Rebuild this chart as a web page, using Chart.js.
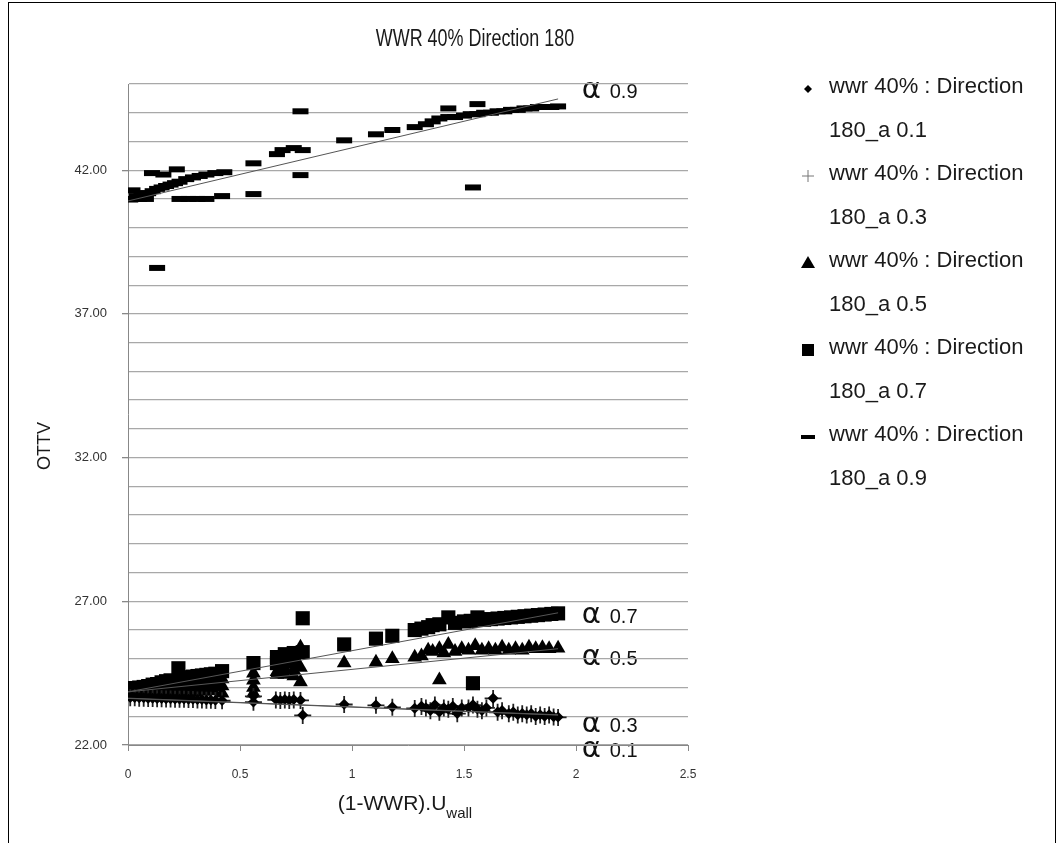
<!DOCTYPE html>
<html>
<head>
<meta charset="utf-8">
<title>WWR 40% Direction 180</title>
<script src="https://cdn.jsdelivr.net/npm/chart.js@4.4.1/dist/chart.umd.min.js"></script>
<style>
  html, body { margin: 0; padding: 0; background: #fff; overflow: hidden; }
  #wrap { position: relative; width: 1062px; height: 843px; }
</style>
</head>
<body>
<div id="wrap"><canvas id="ottv"></canvas></div>
<script>
// alpha 0.1 (diamonds)
const x01 = [0.01,0.03,0.05,0.07,0.09,0.11,0.13,0.15,0.17,0.19,0.21,0.23,0.25,0.27,0.29,0.31,0.33,0.35,0.37,0.39,
  0.42,0.56,0.56,0.66,0.68,0.70,0.72,0.74,0.77,0.78,0.965,1.107,1.18,1.28,
  1.31,1.33,1.35,1.37,1.39,1.41,1.43,1.45,1.47,1.49,1.52,1.54,1.56,1.58,1.60,1.63,1.65,1.67,
  1.70,1.72,1.74,1.76,1.78,1.80,1.82,1.84,1.86,1.88,1.90,1.92];
const y01 = [23.65,23.65,23.64,23.64,23.63,23.63,23.62,23.62,23.61,23.61,23.60,23.60,23.60,23.59,23.59,23.58,23.58,23.57,23.57,23.56,
  23.55,23.50,23.70,23.58,23.56,23.58,23.56,23.58,23.56,23.04,23.42,23.39,23.32,23.28,
  23.35,23.30,23.20,23.40,23.15,23.30,23.25,23.35,23.10,23.30,23.30,23.40,23.25,23.20,23.30,23.63,23.15,23.20,
  23.10,23.15,23.05,23.10,23.05,23.10,23.00,23.05,23.00,23.05,22.98,22.97];

// alpha 0.3 (crosses)
const x03 = [0.01,0.03,0.05,0.07,0.09,0.11,0.13,0.15,0.17,0.19,0.21,0.23,0.25,0.27,0.29,0.31,0.33,0.35,0.37,0.39,
  0.42,0.56,0.56,0.66,0.68,0.70,0.72,0.74,0.77,0.78,0.965,1.107,1.18,1.28,
  1.31,1.33,1.35,1.37,1.39,1.41,1.43,1.45,1.47,1.49,1.52,1.54,1.56,1.58,1.60,1.63,1.65,1.67,
  1.70,1.72,1.74,1.76,1.78,1.80,1.82,1.84,1.86,1.88,1.90,1.92];
const y03 = [23.64,23.64,23.63,23.63,23.62,23.62,23.61,23.61,23.60,23.60,23.59,23.59,23.59,23.58,23.58,23.57,23.57,23.56,23.56,23.55,
  23.54,23.49,23.69,23.57,23.55,23.57,23.55,23.57,23.55,23.03,23.41,23.38,23.31,23.27,
  23.34,23.29,23.19,23.39,23.14,23.29,23.24,23.34,23.09,23.29,23.29,23.39,23.24,23.19,23.29,23.62,23.14,23.19,
  23.09,23.14,23.04,23.09,23.04,23.09,22.99,23.04,22.99,23.04,22.97,22.96];

// alpha 0.5 (triangles)
const x05 = [0.01,0.03,0.05,0.07,0.09,0.11,0.13,0.15,0.17,0.19,0.21,0.23,0.25,0.27,0.29,0.31,0.33,0.35,0.37,0.39,
  0.02,0.06,0.10,0.14,0.18,0.22,0.26,0.30,0.34,0.38,
  0.42,0.42,0.42,0.56,0.56,0.56,0.56,0.665,0.665,0.70,0.70,0.74,0.74,0.77,0.77,0.77,
  0.965,1.107,1.18,1.28,1.31,1.34,1.36,1.39,1.39,1.41,1.43,1.46,1.49,1.52,1.55,1.58,1.61,1.64,1.67,
  1.70,1.73,1.76,1.79,1.82,1.85,1.88,1.92];
const y05 = [23.80,23.83,23.84,23.87,23.88,23.91,23.92,23.95,23.96,23.98,24.01,24.02,24.05,24.06,24.08,24.09,24.11,24.12,24.13,24.15,
  23.70,23.72,23.74,23.75,23.78,23.80,23.83,23.85,23.86,23.88,
  24.30,24.05,23.80,24.50,24.25,24.00,23.80,24.55,24.45,24.65,24.45,24.60,24.40,25.40,24.70,24.19,
  24.85,24.88,25.00,25.05,25.10,25.30,25.25,25.35,24.26,25.20,25.50,25.25,25.35,25.30,25.45,25.30,25.35,25.30,25.40,
  25.30,25.35,25.30,25.40,25.35,25.38,25.35,25.37];

// alpha 0.7 (squares)
const x07 = [0.01,0.03,0.05,0.07,0.09,0.11,0.13,0.15,0.17,0.19,0.225,0.23,0.25,0.27,0.29,0.31,0.33,0.35,0.37,0.39,
  0.02,0.06,0.10,0.14,0.18,0.22,0.26,0.30,0.34,0.38,
  0.42,0.56,0.665,0.665,0.70,0.70,0.74,0.74,0.78,0.78,0.965,1.107,1.18,1.28,1.31,1.34,1.36,1.39,1.43,1.46,
  1.50,1.53,1.54,1.56,1.59,1.62,1.65,1.68,1.71,1.74,1.77,1.80,1.83,1.86,1.89,1.92];
const y07 = [23.95,23.98,24.00,24.02,24.05,24.10,24.12,24.18,24.22,24.25,24.67,24.30,24.33,24.36,24.38,24.40,24.42,24.44,24.46,24.48,
  23.80,23.82,23.85,23.88,23.92,23.95,24.00,24.05,24.08,24.12,
  24.57,24.85,25.06,24.85,25.16,24.90,25.20,24.95,25.23,26.41,25.50,25.70,25.80,26.00,26.05,26.10,26.17,26.20,26.44,26.25,
  26.30,26.32,24.15,26.44,26.36,26.38,26.40,26.42,26.44,26.46,26.48,26.50,26.52,26.54,26.56,26.58];

// alpha 0.9 (dashes)
const x09 = [0.01,0.02,0.04,0.06,0.07,0.09,0.11,0.13,0.15,0.17,0.19,0.21,0.23,0.26,0.29,0.32,0.35,0.39,
  0.107,0.158,0.218,0.43,0.02,0.05,0.08,0.23,0.27,0.31,0.35,0.42,0.56,0.13,
  0.56,0.665,0.69,0.74,0.78,0.77,0.77,0.965,1.107,1.18,1.28,1.33,1.36,1.39,1.43,1.43,1.46,1.50,1.53,1.54,
  1.56,1.56,1.59,1.62,1.65,1.68,1.71,1.74,1.77,1.80,1.83,1.86,1.89,1.92];
const y09 = [40.98,41.30,41.10,41.20,41.15,41.20,41.27,41.35,41.40,41.45,41.50,41.55,41.60,41.69,41.75,41.80,41.85,41.90,
  41.90,41.85,42.03,41.93,41.00,41.00,41.00,41.00,41.00,41.00,41.00,41.10,41.17,38.60,
  42.24,42.56,42.70,42.77,42.70,41.83,44.05,43.04,43.25,43.40,43.50,43.60,43.70,43.80,44.15,43.85,43.85,43.90,43.95,41.40,
  44.30,43.95,44.00,44.00,44.05,44.05,44.10,44.10,44.15,44.15,44.20,44.20,44.20,44.22];

// trend line end points (x from 0 to 1.92)
const trendX = [0, 1.92];
const trend01 = [23.63, 23.05];
const trend03 = [23.62, 23.04];
const trend05 = [23.85, 25.35];
const trend07 = [23.85, 26.60];
const trend09 = [40.93, 44.48];

// series labels and the alpha notes beside the lines
const seriesLabels = ['180_a 0.1', '180_a 0.3', '180_a 0.5', '180_a 0.7', '180_a 0.9'];
const alphaNames = ['0.9', '0.7', '0.5', '0.3', '0.1'];
const alphaY = [44.72, 26.44, 24.99, 22.66, 21.79];
const alphaX = 2.03;

const yTickStart = 22;

function pts(xs, ys) {
  return xs.map((x, i) => ({ x: x, y: ys[i] }));
}

const markerStyles = ['diamond', 'cross', 'triangle', 'square', 'dash'];

function drawMarker(ctx, style, x, y) {
  ctx.save();
  ctx.fillStyle = '#000';
  ctx.strokeStyle = '#000';
  if (style === 'diamond') {
    ctx.beginPath();
    ctx.moveTo(x, y - 4); ctx.lineTo(x + 4, y); ctx.lineTo(x, y + 4); ctx.lineTo(x - 4, y);
    ctx.closePath(); ctx.fill();
  } else if (style === 'cross') {
    ctx.strokeStyle = '#777';
    ctx.lineWidth = 1;
    ctx.beginPath();
    ctx.moveTo(x - 6, y); ctx.lineTo(x + 6, y);
    ctx.moveTo(x, y - 6); ctx.lineTo(x, y + 6);
    ctx.stroke();
  } else if (style === 'triangle') {
    ctx.beginPath();
    ctx.moveTo(x, y - 7); ctx.lineTo(x + 7, y + 5); ctx.lineTo(x - 7, y + 5);
    ctx.closePath(); ctx.fill();
  } else if (style === 'square') {
    ctx.fillRect(x - 6, y - 6, 12, 12);
  } else {
    ctx.fillRect(x - 7, y - 2, 14, 4);
  }
  ctx.restore();
}

const decorations = {
  id: 'decorations',
  beforeDraw(chart) {
    // alpha notes go under the grid lines, as in the original
    const ctx = chart.ctx;
    const xs = chart.scales.x, ys = chart.scales.y;
    ctx.save();
    ctx.fillStyle = '#111';
    ctx.textBaseline = 'middle';
    ctx.textAlign = 'left';
    alphaNames.forEach((name, i) => {
      const px = xs.getPixelForValue(alphaX);
      const py = ys.getPixelForValue(alphaY[i]);
      ctx.font = '29px "DejaVu Sans"';
      ctx.fillText('\u03b1', px - 1, py - 2);
      ctx.font = '20px "Liberation Sans"';
      ctx.fillText(name, px + 27, py);
    });
    ctx.restore();
  },
  afterDraw(chart) {
    const ctx = chart.ctx;
    ctx.save();
    // outer frame
    ctx.strokeStyle = '#000';
    ctx.lineWidth = 1;
    ctx.strokeRect(8.5, 2.5, 1047, 900);

    ctx.fillStyle = '#1a1a1a';
    ctx.textBaseline = 'middle';

    // title, narrow face like the original
    ctx.save();
    ctx.translate(475, 40);
    ctx.scale(0.78, 1);
    ctx.font = '23px "Liberation Sans"';
    ctx.textAlign = 'center';
    ctx.fillText('WWR 40% Direction 180', 0, 0);
    ctx.restore();

    // y axis title
    ctx.save();
    ctx.translate(45, 446);
    ctx.rotate(-Math.PI / 2);
    ctx.textAlign = 'center';
    ctx.font = '18px "Liberation Sans"';
    ctx.fillText('OTTV', 0, 0);
    ctx.restore();

    // x axis title with subscript
    ctx.textBaseline = 'alphabetic';
    ctx.textAlign = 'left';
    ctx.font = '21px "Liberation Sans"';
    const main = '(1-WWR).U';
    const w1 = ctx.measureText(main).width;
    ctx.font = '15px "Liberation Sans"';
    const w2 = ctx.measureText('wall').width;
    const sx = 405 - (w1 + w2) / 2;
    ctx.font = '21px "Liberation Sans"';
    ctx.fillText(main, sx, 810);
    ctx.font = '15px "Liberation Sans"';
    ctx.fillText('wall', sx + w1, 818);

    // legend, two lines per series
    ctx.textBaseline = 'middle';
    ctx.font = '22px "Liberation Sans"';
    seriesLabels.forEach((lab, i) => {
      const y = 87 + i * 87;
      drawMarker(ctx, markerStyles[i], 808, y + 2);
      ctx.fillText('wwr 40% : Direction', 829, y);
      ctx.fillText(lab, 829, y + 44);
    });
    ctx.restore();
  }
};

const pointCommon = { showLine: false, borderColor: '#000', backgroundColor: '#000' };

const trendCommon = {
  showLine: true, pointRadius: 0, borderColor: '#555', borderWidth: 1, fill: false
};

const ottvConfig = {
  type: 'scatter',
  data: {
    datasets: [
      { ...trendCommon, label: 'trend 0.1', data: pts(trendX, trend01) },
      { ...trendCommon, label: 'trend 0.3', data: pts(trendX, trend03) },
      { ...trendCommon, label: 'trend 0.5', data: pts(trendX, trend05) },
      { ...trendCommon, label: 'trend 0.7', data: pts(trendX, trend07) },
      { ...trendCommon, label: 'trend 0.9', data: pts(trendX, trend09) },
      { ...pointCommon, label: 'wwr 40% : Direction 180_a 0.1', data: pts(x01, y01),
        pointStyle: 'rectRot', pointRadius: 5.5, borderWidth: 0 },
      { ...pointCommon, label: 'wwr 40% : Direction 180_a 0.3', data: pts(x03, y03),
        pointStyle: 'cross', pointRadius: 8.5, borderWidth: 1.8, borderColor: '#222' },
      { ...pointCommon, label: 'wwr 40% : Direction 180_a 0.5', data: pts(x05, y05),
        pointStyle: 'triangle', pointRadius: 8.5, borderWidth: 0 },
      { ...pointCommon, label: 'wwr 40% : Direction 180_a 0.7', data: pts(x07, y07),
        pointStyle: 'rect', pointRadius: 10, borderWidth: 0 },
      { ...pointCommon, label: 'wwr 40% : Direction 180_a 0.9', data: pts(x09, y09),
        pointStyle: 'line', pointRadius: 8, borderWidth: 6 }
    ]
  },
  options: {
    responsive: true,
    maintainAspectRatio: false,
    animation: false,
    events: [],
    layout: { padding: { left: 0, top: 84, right: 374, bottom: 0 } },
    plugins: {
      legend: { display: false },
      title: { display: false },
      tooltip: { enabled: false }
    },
    scales: {
      x: {
        type: 'linear',
        min: 0,
        max: 2.5,
        afterFit: (s) => { s.height = 98; },
        border: { display: true, color: '#888', width: 1 },
        grid: { drawOnChartArea: false, drawTicks: true, tickLength: 6, color: '#888' },
        ticks: {
          stepSize: 0.5,
          padding: 16,
          color: '#333',
          font: { family: '"Liberation Sans"', size: 12 },
          callback: (v) => String(v)
        }
      },
      y: {
        type: 'linear',
        min: 22,
        max: 45,
        afterFit: (s) => { s.width = 128; },
        border: { display: true, color: '#888', width: 1 },
        grid: {
          color: '#a8a8a8',
          lineWidth: 1.3,
          tickLength: 6,
          tickColor: (c) => ((c.tick && (c.tick.value - yTickStart) % 5 === 0) ? '#888' : 'rgba(0,0,0,0)')
        },
        ticks: {
          stepSize: 1,
          padding: 15,
          color: '#333',
          font: { family: '"Liberation Sans"', size: 13 },
          callback: (v) => ((v - yTickStart) % 5 === 0 ? v.toFixed(2) : '')
        }
      }
    }
  },
  plugins: [decorations]
};

const ottvEl = document.getElementById('ottv');
window.ottvChart = new Chart(ottvEl, ottvConfig);
</script>
</body>
</html>
